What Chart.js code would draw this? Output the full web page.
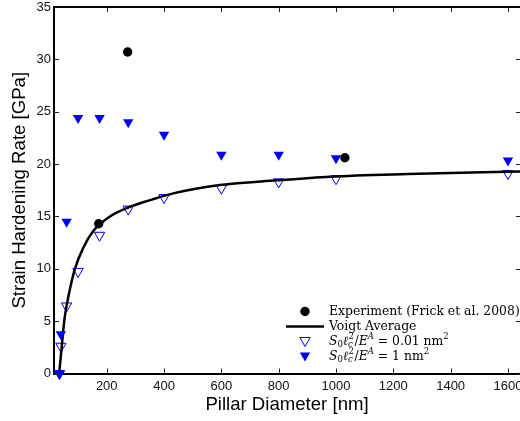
<!DOCTYPE html>
<html>
<head>
<meta charset="utf-8">
<script src="https://cdn.jsdelivr.net/npm/chart.js@4.4.1/dist/chart.umd.min.js"></script>
<style>
  html, body { margin: 0; padding: 0; background: #fff; overflow: hidden; width: 520px; height: 421px; }
  canvas { display: block; }
</style>
</head>
<body>
<canvas id="chart" width="544" height="421"></canvas>
<script>
// values
const experimentX = [172, 273, 1031];
const experimentY = [14.3, 30.7, 20.6];

const voigtX = [34, 43, 52, 68, 89, 118, 153, 206, 275, 357, 432, 595, 793, 979, 1250, 1642];
const voigtY = [0, 2.55, 5.1, 7.6, 10.0, 12.0, 13.6, 14.9, 15.85, 16.6, 17.2, 18.0, 18.45, 18.8, 19.05, 19.3];

const diameters = [35, 40, 60, 100, 175, 275, 400, 600, 800, 1000, 1600];
const smallEll = [0, 2.6, 6.45, 9.75, 13.2, 15.7, 16.8, 17.7, 18.3, 18.6, 19.1];
const largeEll = [0, 3.75, 14.5, 24.4, 24.4, 24.0, 22.8, 20.9, 20.9, 20.55, 20.35];

const xTicks = [200, 400, 600, 800, 1000, 1200, 1400, 1600];
const yTicks = [0, 5, 10, 15, 20, 25, 30, 35];

const pts = (xs, ys) => xs.map((x, i) => ({ x, y: ys[i] }));
const BLUE = '#0000ff';
const sans = "'Liberation Sans', Arial, sans-serif";
const serif = "'DejaVu Serif', serif";

// inward ticks on all four sides + top frame line
const frame = {
  id: 'frame',
  afterDatasetsDraw(chart) {
    const { ctx, chartArea: a, scales: { x, y } } = chart;
    ctx.save();
    ctx.strokeStyle = '#222';
    ctx.lineWidth = 1;
    ctx.beginPath();
    xTicks.forEach(v => {
      const px = Math.round(x.getPixelForValue(v)) + 0.5;
      ctx.moveTo(px, a.bottom); ctx.lineTo(px, a.bottom - 5);
      ctx.moveTo(px, a.top); ctx.lineTo(px, a.top + 5);
    });
    yTicks.forEach(v => {
      const py = Math.round(y.getPixelForValue(v)) + 0.5;
      ctx.moveTo(a.left, py); ctx.lineTo(a.left + 5, py);
      ctx.moveTo(a.right, py); ctx.lineTo(a.right - 4, py);
    });
    ctx.stroke();
    ctx.strokeStyle = '#000';
    ctx.lineWidth = 2;
    ctx.beginPath();
    ctx.moveTo(a.left, a.top); ctx.lineTo(a.right + 30, a.top);
    ctx.stroke();
    ctx.restore();
  }
};

// legend with math-style labels
function richText(ctx, x, y, parts) {
  parts.forEach(p => {
    if (p.stack) {
      ctx.font = '8.5px ' + serif;
      const w2 = ctx.measureText(p.stack[1]).width;
      ctx.fillText(p.stack[1], x + 0.5, y - 4.5);
      ctx.font = 'italic 8.5px ' + serif;
      const w1 = ctx.measureText(p.stack[0]).width;
      ctx.fillText(p.stack[0], x, y + 3.5);
      x += Math.max(w1, w2) + 1;
      return;
    }
    const size = p.small ? 8.5 : 12.4;
    ctx.font = (p.it ? 'italic ' : '') + size + 'px ' + serif;
    ctx.fillText(p.t, x, y + (p.dy || 0));
    x += ctx.measureText(p.t).width;
  });
}

const legendBox = {
  id: 'legendBox',
  afterDraw(chart) {
    const { ctx } = chart;
    const mx = 305, tx = 329;
    const rows = [311.5, 326.5, 341.5, 356.5];
    ctx.save();
    ctx.fillStyle = '#000';
    ctx.beginPath(); ctx.arc(mx, rows[0], 4.7, 0, Math.PI * 2); ctx.fill();
    ctx.strokeStyle = '#000'; ctx.lineWidth = 2.5;
    ctx.beginPath(); ctx.moveTo(286, rows[1]); ctx.lineTo(324, rows[1]); ctx.stroke();
    const tri = (cy, fill) => {
      const r = 6;
      ctx.beginPath();
      ctx.moveTo(mx - r * 0.866, cy - r / 2);
      ctx.lineTo(mx + r * 0.866, cy - r / 2);
      ctx.lineTo(mx, cy + r);
      ctx.closePath();
      if (fill) { ctx.fillStyle = BLUE; ctx.fill(); }
      else { ctx.strokeStyle = BLUE; ctx.lineWidth = 1; ctx.stroke(); }
    };
    tri(rows[2] - 1, false);
    tri(rows[3] - 1, true);
    ctx.fillStyle = '#000';
    ctx.textBaseline = 'middle';
    ctx.textAlign = 'left';
    richText(ctx, tx, rows[0], [{ t: 'Experiment (Frick et al. 2008)' }]);
    richText(ctx, tx, rows[1], [{ t: 'Voigt Average' }]);
    const lhs = [
      { t: 'S', it: true }, { t: '0', small: true, dy: 3 },
      { t: 'ℓ', it: true }, { stack: ['c', '2'] },
      { t: '/' }, { t: 'E', it: true }, { t: 'A', it: true, small: true, dy: -5 }
    ];
    richText(ctx, tx, rows[2], lhs.concat([{ t: ' = 0.01 nm' }, { t: '2', small: true, dy: -5 }]));
    richText(ctx, tx, rows[3], lhs.concat([{ t: ' = 1 nm' }, { t: '2', small: true, dy: -5 }]));
    ctx.restore();
  }
};

new Chart(document.getElementById('chart'), {
  type: 'scatter',
  data: {
    datasets: [
      {
        label: 'Experiment (Frick et al. 2008)',
        data: pts(experimentX, experimentY),
        pointStyle: 'circle', pointRadius: 4.7,
        backgroundColor: '#000', borderColor: '#000', borderWidth: 0,
        order: 1, clip: false
      },
      {
        label: 'Voigt Average',
        data: pts(voigtX, voigtY),
        showLine: true, pointRadius: 0,
        borderColor: '#000', borderWidth: 2.5,
        cubicInterpolationMode: 'monotone',
        order: 3, clip: false
      },
      {
        label: 'small',
        data: pts(diameters, smallEll),
        pointStyle: 'triangle', rotation: 180, pointRadius: 6,
        backgroundColor: 'rgba(0,0,0,0)', borderColor: BLUE, borderWidth: 1,
        order: 4, clip: false
      },
      {
        label: 'large',
        data: pts(diameters, largeEll),
        pointStyle: 'triangle', rotation: 180, pointRadius: 6,
        backgroundColor: BLUE, borderColor: BLUE, borderWidth: 0,
        order: 2, clip: false
      }
    ]
  },
  options: {
    responsive: false,
    animation: false,
    events: [],
    layout: { padding: { top: 4.5, right: 24, left: 0, bottom: 0 } },
    plugins: { legend: { display: false }, tooltip: { enabled: false } },
    scales: {
      x: {
        type: 'linear', min: 16, max: 1642,
        afterBuildTicks: s => { s.ticks = xTicks.map(v => ({ value: v })); },
        afterFit: s => { s.height = 47.5; },
        grid: { display: false, drawTicks: false },
        border: { display: true, color: '#000', width: 2 },
        ticks: { color: '#111', font: { family: sans, size: 13 }, padding: 5, maxRotation: 0, autoSkip: false, callback: v => String(v) },
        title: { display: true, text: 'Pillar Diameter [nm]', color: '#000', font: { family: sans, size: 18.6 }, padding: { top: 5, bottom: 5 } }
      },
      y: {
        type: 'linear', min: 0, max: 35,
        afterBuildTicks: s => { s.ticks = yTicks.map(v => ({ value: v })); },
        afterFit: s => { s.width = 54; s.paddingTop = 0; s.paddingBottom = 0; },
        grid: { display: false, drawTicks: false },
        border: { display: true, color: '#000', width: 2 },
        ticks: { color: '#111', font: { family: sans, size: 13, lineHeight: 0.6 }, padding: 3, callback: v => String(v) },
        title: { display: true, text: 'Strain Hardening Rate [GPa]', color: '#000', font: { family: sans, size: 18.6 }, padding: { top: 9, bottom: 0 } }
      }
    }
  },
  plugins: [frame, legendBox]
});
</script>
</body>
</html>
